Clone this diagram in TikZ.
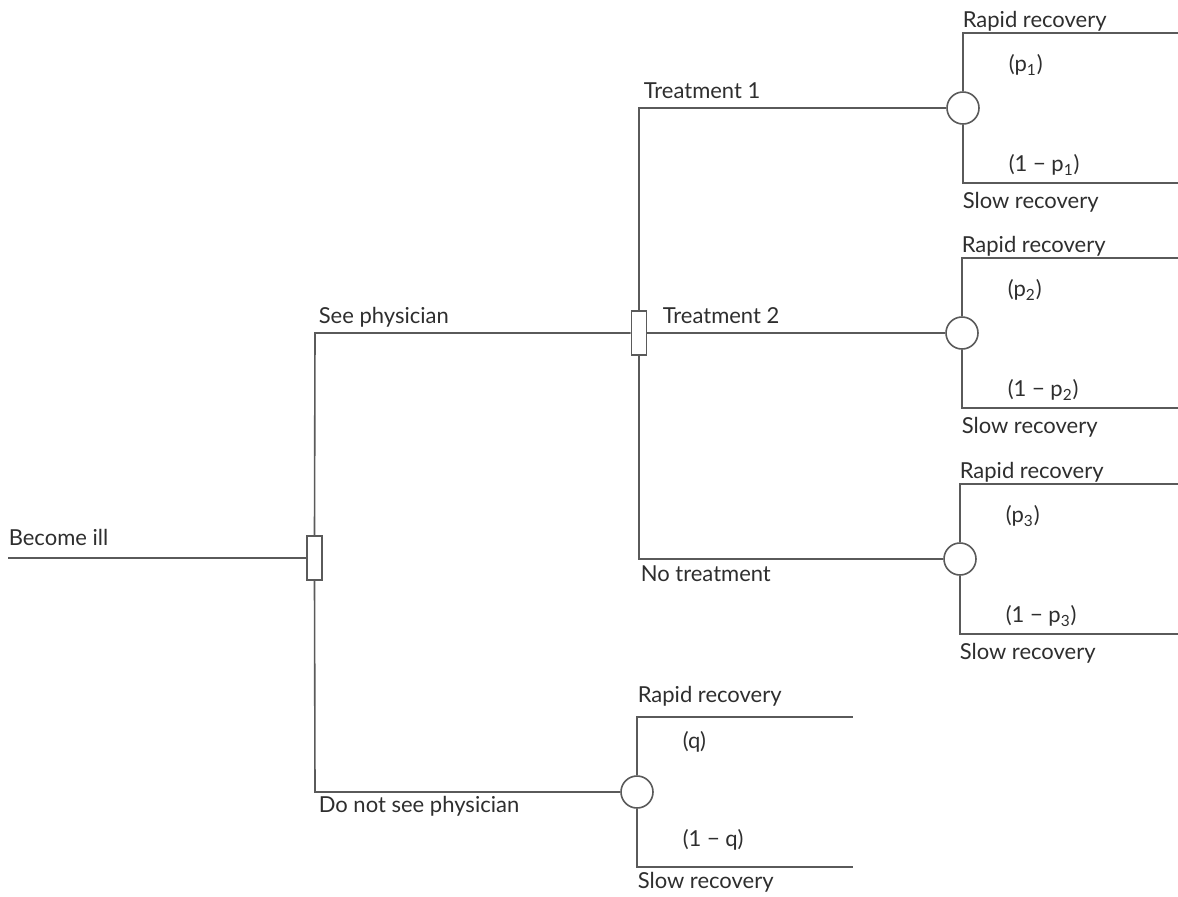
\documentclass[tikz,border=0pt]{standalone}
\usepackage{fontspec}
\setmainfont{Lato}
\usepackage{tikz}
\usetikzlibrary{positioning, calc}
\definecolor{linegray}{HTML}{5A5A5A}
\definecolor{textgray}{HTML}{2E2E2E}

\begin{document}
\begin{tikzpicture}[
    x=0.5pt, y=-0.5pt,
    line width=0.8pt,
    decision/.style={draw=linegray, fill=white, minimum width=7.5pt, minimum height=22pt, inner sep=0pt},
    chance/.style={draw=linegray, fill=white, circle, minimum size=16pt, inner sep=0pt},
    branch/.style={draw=linegray},
    lbl/.style={font=\fontsize{11}{13}\selectfont, text=textgray, inner sep=0pt},
]
\useasboundingbox (0,0) rectangle (1178,896);

% decision and chance nodes
\node[decision] (d1) at (314.5,558) {};
\node[decision] (d2) at (639,333) {};
\node[chance] (c1) at (963,108) {};
\node[chance] (c2) at (962,333) {};
\node[chance] (c3) at (960,559) {};
\node[chance] (cq) at (637,792) {};

\coordinate (start) at (8,558);
\coordinate (sp) at (315,333);
\coordinate (dn) at (315,792);
\coordinate (t1) at (639,108);
\coordinate (nt) at (639,559);

% tree branches
\draw[branch] (start) -- (d1.west);
\draw[branch] (d1.north) -- (sp) -- (d2.west);
\draw[branch] (d1.south) -- (dn) -- (cq.west);
\draw[branch] (d2.north) -- (t1) -- (c1.west);
\draw[branch] (d2.east) -- (c2.west);
\draw[branch] (d2.south) -- (nt) -- (c3.west);

% outcome pairs
\foreach \c/\endx in {c1/1178, c2/1178, c3/1178, cq/853} {
  \draw[branch] (\c.north) |- ($(\c.center)+(0,-75)$) -- (\endx,0 |- {$(\c.center)+(0,-75)$});
  \draw[branch] (\c.south) |- ($(\c.center)+(0,75)$) -- (\endx,0 |- {$(\c.center)+(0,75)$});
}

% labels
\node[lbl, anchor=base west] (lill) at (8,545) {Become ill};
\node[lbl, anchor=base west] (lsee) at (318,323) {See physician};
\node[lbl, anchor=base west] (lnot) at (318,812) {Do not see physician};
\node[lbl, anchor=base west] (lt1) at (643,98) {Treatment 1};
\node[lbl, anchor=base west] (lt2) at (662,323) {Treatment 2};
\node[lbl, anchor=base west] (lnt) at (640,581) {No treatment};

\foreach \c/\p in {c1/p\textsubscript{1}, c2/p\textsubscript{2}, c3/p\textsubscript{3}} {
  \node[lbl, anchor=base west] at ($(\c.center)+(-1,-81)$) {Rapid recovery};
  \node[lbl, anchor=west] at ($(\c.center)+(45,-43)$) {(\p)};
  \node[lbl, anchor=west] at ($(\c.center)+(45,57)$) {(1 − \p)};
  \node[lbl, anchor=base west] at ($(\c.center)+(-1,100)$) {Slow recovery};
}
\node[lbl, anchor=base west] (rq) at (637,702) {Rapid recovery};
\node[lbl, anchor=west] (pq) at (682,742) {(q)};
\node[lbl, anchor=west] (nq) at (682,840) {(1 − q)};
\node[lbl, anchor=base west] (sq) at (637,888) {Slow recovery};
\end{tikzpicture}
\end{document}
